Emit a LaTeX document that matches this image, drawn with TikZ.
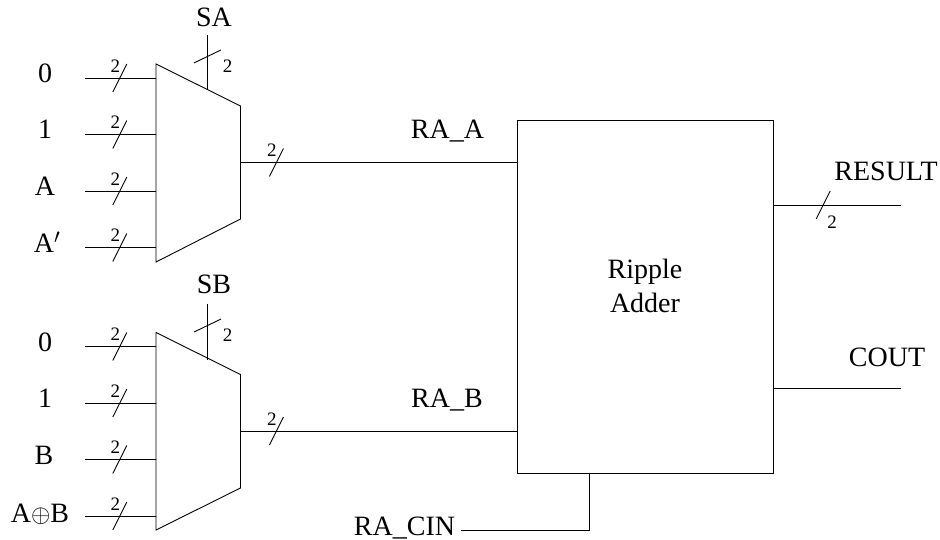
\documentclass[tikz,border=0pt]{standalone}
\usepackage{fontspec}
\setmainfont{Liberation Serif}
\usepackage{tikz}
\usetikzlibrary{calc}

\tikzset{
    lbl/.style={anchor=base, inner sep=0pt, font=\fontsize{28}{33}\selectfont, align=center},
    wdth/.style={inner sep=0pt, font=\fontsize{19}{20}\selectfont},
    % slash on a bus, with its width beside it
    inmark/.pic={\draw (-7,14) -- (7,-14); \node[wdth] (w) at (-4.5,-12) {2};},
    selmark/.pic={\draw (-13.5,6.5) -- (13.5,-6.5); \node[wdth] (w) at (20,9.5) {2};},
    outmark/.pic={\draw (-7,14) -- (7,-14); \node[wdth] (w) at (9,17) {2};}
}

\begin{document}
\begin{tikzpicture}[x=1pt, y=-1pt, line width=0.9pt]
    \useasboundingbox (0,0) rectangle (940,540);

    % upper mux
    \coordinate (MAtl) at (156,64);
    \coordinate (MAtr) at (240.5,106);
    \coordinate (MAbr) at (240.5,219);
    \coordinate (MAbl) at (156,262);
    \coordinate (MAout) at (240.5,162.5);
    \coordinate (MAsel) at (207.5,90);
    \coordinate (SAtop) at (207.5,35);
    \draw (MAtl) -- (MAtr) -- (MAbr) -- (MAbl) -- cycle;
    \node[lbl] (SA) at (214,27) {SA};
    \draw (SAtop) -- pic[pos=0.39] {selmark} (MAsel);

    % lower mux
    \coordinate (MBtl) at (156,332.5);
    \coordinate (MBtr) at (240.5,374.5);
    \coordinate (MBbr) at (240.5,488);
    \coordinate (MBbl) at (156,530);
    \coordinate (MBout) at (240.5,431);
    \coordinate (MBsel) at (207.5,360);
    \coordinate (SBtop) at (207.5,303.5);
    \draw (MBtl) -- (MBtr) -- (MBbr) -- (MBbl) -- cycle;
    \node[lbl] (SB) at (214,294) {SB};
    \draw (SBtop) -- pic[pos=0.39] {selmark} (MBsel);

    % mux inputs
    \foreach \n/\y/\ly/\lx/\t in {a/78/82.5/45/0, b/134.5/139/45/1, c/191/195.5/45/A, d/247.5/253/47/A$'$,
                                  e/346.5/351/45/0, f/403/407.5/45/1, g/459.5/464/44/B, h/516/522/40/A$\oplus$B} {
        \node[lbl] (L\n) at (\lx,\ly) {\t};
        \coordinate (I\n) at (85,\y);
        \coordinate (P\n) at (156,\y);
        \draw (I\n) -- pic[pos=0.49] {inmark} (P\n);
    }

    % adder
    \node[draw, minimum width=256pt, minimum height=353pt, inner sep=0pt] (RA) at (645,296.5) {};
    \node[lbl] (RAtxt) at (645,312) {Ripple\\Adder};

    \node[lbl] (RAa) at (447.5,139) {RA\_A};
    \node[lbl] (RAb) at (447,407) {RA\_B};
    \node[lbl] (RAc) at (404.5,535) {RA\_CIN};
    \draw (MAout) -- pic[pos=0.13] {inmark} (RA.west |- MAout);
    \draw (MBout) -- pic[pos=0.13] {inmark} (RA.west |- MBout);

    \coordinate (CINs) at (461,530);
    \coordinate (CINc) at (589.5,530);
    \draw (CINs) -- (CINc) -- (RA.south -| CINc);

    % outputs
    \coordinate (RESe) at (901,205);
    \coordinate (COUTe) at (901,388.5);
    \node[lbl] (RES) at (886,181) {RESULT};
    \node[lbl] (COUT) at (887,366) {COUT};
    \draw (RA.east |- RESe) -- pic[pos=0.39] {outmark} (RESe);
    \draw (RA.east |- COUTe) -- (COUTe);
\end{tikzpicture}
\end{document}
